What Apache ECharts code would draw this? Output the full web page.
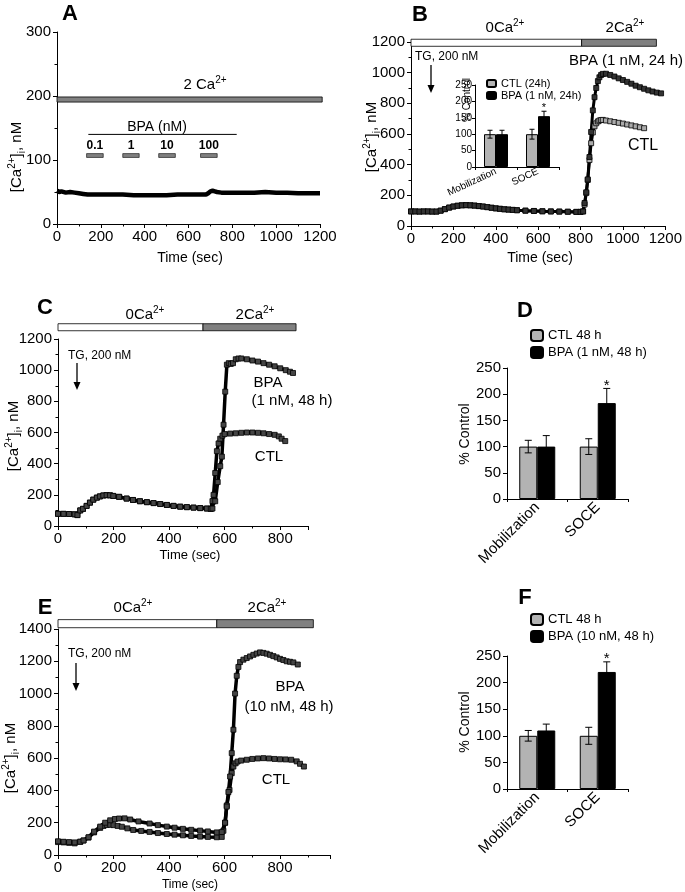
<!DOCTYPE html>
<html><head><meta charset="utf-8">
<script src="https://cdn.jsdelivr.net/npm/echarts@6/dist/echarts.min.js"></script>
<style>html,body{margin:0;padding:0;background:#fff}#c{width:685px;height:892px}</style>
</head><body><div id="c"></div>
<script>
const FF = '"Liberation Sans", Arial, Helvetica, sans-serif';

// ---------- Panel A ----------
const A_trace = [[0,52],[10,50],[20,51],[40,49],[60,50],[80,49],[100,48],[120,47],[140,46],[160,46],[200,46],[250,46],[300,46],[350,45],[400,45],[450,45],[500,45],[550,46],[600,46],[650,46],[680,46],[690,48],[700,51],[710,52],[720,51],[730,50],[750,49],[800,49],[850,49],[900,49],[950,50],[1000,49],[1050,49],[1100,48],[1150,48],[1200,48]];
const A_cond = [[0,1210,190.5,198.5,1]];
const A_bpaSpan = [[143,820,140]];
const A_doseLabels = ['0.1','1','10','100'];
const A_doseStart = [135,300,464,655];
const A_doseEnd = [211,375,540,731];
const A_doseLevel = [104,110];

// ---------- Panel B ----------
const B_cond = [[0,805,1172,1218,0],[805,1158,1172,1218,1]];
const B_ctl = [[0,95],[20,95],[40,94],[60,95],[80,95],[100,94],[120,94],[140,100],[160,110],[180,120],[200,127],[220,132],[240,135],[260,136],[280,135],[300,133],[320,130],[340,127],[360,123],[380,119],[400,115],[420,112],[440,109],[460,107],[480,105],[500,103],[540,100],[580,98],[620,96],[660,95],[700,94],[740,93],[780,92],[800,92],[812,95],[819,140],[827,215],[834,300],[842,430],[850,540],[858,610],[866,650],[874,670],[882,682],[889,688],[897,691],[905,692],[920,688],[940,683],[960,678],[980,673],[1000,668],[1020,662],[1040,656],[1060,650],[1080,644],[1100,638]];
const B_bpa = [[0,95],[20,95],[40,94],[60,95],[80,95],[100,94],[120,94],[140,100],[160,110],[180,120],[200,127],[220,132],[240,135],[260,136],[280,135],[300,133],[320,130],[340,127],[360,123],[380,119],[400,115],[420,112],[440,109],[460,107],[480,105],[500,103],[540,100],[580,98],[620,96],[660,95],[700,94],[740,93],[780,92],[800,92],[812,95],[819,150],[827,220],[834,304],[842,450],[850,613],[858,754],[866,840],[874,900],[882,945],[889,970],[897,985],[905,992],[920,993],[940,985],[960,975],[980,963],[1000,952],[1020,940],[1040,928],[1060,915],[1080,905],[1100,895],[1120,885],[1140,877],[1160,870],[1180,865]];
const B_cats = ['Mobilization','SOCE'];
const B_inCtl = [100,100], B_inCtlErr = [12,15];
const B_inBpa = [100,155], B_inBpaErr = [12,15];
const B_inSig = [0,1];

// ---------- Panel C ----------
const C_cond = [[0,522,1253,1298,0],[522,857,1253,1298,1]];
const C_base = [[0,78],[20,78],[40,77],[60,75],[70,70],[80,100],[90,110],[103,129],[115,150],[127,169],[140,182],[151,190],[163,196],[175,198],[187,197],[199,193],[220,187],[247,176],[270,167],[295,159],[320,153],[344,147],[368,141],[392,135],[416,129],[440,124],[464,121],[488,118],[512,115],[536,112],[550,110]];
const C_ctlRise = [[556,160],[560,200],[566,340],[572,480],[578,530],[584,560],[592,580],[600,590],[620,593],[640,595],[660,598],[680,600],[700,600],[720,598],[740,595],[760,590],[780,585],[795,575],[805,560],[818,545]];
const C_bpaRise = [[556,112],[566,159],[575,282],[584,384],[590,445],[596,650],[602,862],[608,1035],[615,1045],[622,1040],[630,1045],[640,1070],[650,1075],[660,1075],[680,1070],[700,1062],[720,1055],[740,1045],[760,1035],[780,1025],[800,1012],[820,1000],[835,990],[846,982]];

// ---------- Panel D ----------
const D_cats = ['Mobilization','SOCE'];
const D_ctl = [100,100], D_ctlErr = [12,15];
const D_bpa = [100,183], D_bpaErr = [21,28];
const D_sig = [0,1];

// ---------- Panel E ----------
const E_cond = [[0,572,1408,1458,0],[572,920,1408,1458,1]];
const E_bpa = [[0,85],[20,82],[40,80],[60,78],[80,82],[92,90],[110,110],[130,145],[152,176],[170,200],[188,215],[205,223],[220,226],[240,227],[260,220],[290,208],[330,195],[360,185],[392,176],[420,169],[450,162],[480,156],[512,151],[540,146],[572,140],[590,142],[602,200],[608,300],[614,390],[620,486],[626,631],[632,776],[638,1000],[644,1110],[650,1165],[656,1195],[668,1210],[680,1220],[692,1230],[704,1240],[716,1248],[728,1255],[740,1252],[752,1247],[764,1240],[776,1232],[788,1224],[800,1215],[812,1208],[824,1200],[836,1197],[848,1193],[864,1180]];
const E_ctl = [[0,80],[20,78],[40,75],[60,72],[80,82],[92,90],[110,108],[130,140],[152,168],[164,180],[176,186],[188,187],[200,185],[215,180],[230,175],[250,165],[271,155],[300,149],[330,143],[360,136],[392,130],[420,126],[450,122],[480,118],[512,114],[540,112],[572,110],[590,112],[596,150],[602,200],[608,307],[618,403],[626,507],[632,548],[640,568],[647,579],[660,585],[680,590],[700,595],[720,598],[740,600],[760,598],[780,595],[800,593],[820,592],[840,590],[860,580],[872,565],[886,548]];

// ---------- Panel F ----------
const F_cats = ['Mobilization','SOCE'];
const F_ctl = [100,100], F_ctlErr = [10,16];
const F_bpa = [110,220], F_bpaErr = [12,19];
const F_sig = [0,1];

// ---------- helpers ----------
const COND_FILL = ['#ffffff', '#808080'];
function rich(size){
  const s = Math.round(size*0.66);
  return {sup:{fontSize:s, lineHeight:s, verticalAlign:'top', fontFamily:FF, fill:'#000'},
          sub:{fontSize:s, lineHeight:s, verticalAlign:'bottom', fontFamily:FF, fill:'#000'}};
}
function txt(x, y, text, size, o){
  o = o || {};
  return {type:'text', x:x, y:y, rotation:o.rot||0, z:20, silent:true,
    style:{text:text, fontSize:size, fontFamily:FF, fontWeight:o.bold?'bold':'normal', fill:'#000',
      align:o.align||'center', verticalAlign:'middle', lineHeight:Math.round(size*1.35), rich:rich(size)}};
}
function arrow(x, y1, y2){
  return {type:'group', z:20, silent:true, children:[
    {type:'line', shape:{x1:x,y1:y1,x2:x,y2:y2-6}, style:{stroke:'#000', lineWidth:1.3}},
    {type:'polygon', shape:{points:[[x-3.5,y2-8],[x+3.5,y2-8],[x,y2]]}, style:{fill:'#000'}}]};
}
const plainFmt = function(v){ return String(v); };
const xFmt = function(v){ return (v % 200 === 0 && v <= 800) ? String(v) : ''; };
function valAxis(g, min, max, interval, o){
  o = o || {};
  return {type:'value', gridIndex:g, min:min, max:max, interval:interval,
    axisLine:{show:true, onZero:false, lineStyle:{color:'#000', width:1}},
    axisTick:{show:true, length:o.tick||4, lineStyle:{color:'#000', width:1}},
    minorTick:{show:o.minor!==false, splitNumber:2, length:o.mtick||2.5, lineStyle:{color:'#000', width:1}},
    splitLine:{show:false}, minorSplitLine:{show:false},
    axisLabel:{color:'#000', fontSize:o.fs||15, fontFamily:FF, margin:o.margin||6, formatter:o.fmt||plainFmt}};
}
function catAxis(g, cats, o){
  return {type:'category', gridIndex:g, data:cats,
    axisLine:{show:true, lineStyle:{color:'#000', width:1}},
    axisTick:{show:true, length:3, lineStyle:{color:'#000'}},
    splitLine:{show:false},
    axisLabel:{color:'#000', fontSize:o.fs, fontFamily:FF, rotate:o.rot, margin:o.margin, interval:0}};
}
function condSeries(idx, segs){
  return {type:'custom', xAxisIndex:idx, yAxisIndex:idx, clip:false, silent:true, z:3, data:segs,
    renderItem:function(p, api){
      const a = api.coord([api.value(0), api.value(3)]);
      const b = api.coord([api.value(1), api.value(2)]);
      return {type:'rect', shape:{x:a[0], y:a[1], width:b[0]-a[0], height:b[1]-a[1]},
        style:{fill:COND_FILL[api.value(4)], stroke:'#000', lineWidth:0.8}};
    }};
}
function trace(idx, data, o){
  o = o || {};
  return {type:'line', xAxisIndex:idx, yAxisIndex:idx, data:data, z:5, silent:true,
    symbol:o.symbol||'rect', symbolSize:o.size||5, showSymbol:o.symbol!=='none', showAllSymbol:true,
    lineStyle:{color:'#000', width:o.lw||1.5},
    itemStyle:{color:o.fill||'#444', borderColor:'#000', borderWidth:0.8}};
}
function errSeries(idx, vals, errs, sig, offset, cap, afs){
  const data = vals.map(function(v,i){ return [i, v, errs[i], sig ? sig[i] : 0]; });
  return {type:'custom', xAxisIndex:idx, yAxisIndex:idx, z:6, silent:true, data:data,
    renderItem:function(p, api){
      const i = api.value(0), v = api.value(1), e = api.value(2), s = api.value(3);
      const t = api.coord([i, v+e]), b = api.coord([i, v-e]);
      const x = t[0] + offset;
      const ch = [
        {type:'line', shape:{x1:x,y1:t[1],x2:x,y2:b[1]}, style:{stroke:'#000', lineWidth:1}},
        {type:'line', shape:{x1:x-cap,y1:t[1],x2:x+cap,y2:t[1]}, style:{stroke:'#000', lineWidth:1}},
        {type:'line', shape:{x1:x-cap,y1:b[1],x2:x+cap,y2:b[1]}, style:{stroke:'#000', lineWidth:1}}];
      if (s) ch.push({type:'text', x:x, y:t[1]-3, style:{text:'*', fontSize:afs, fontFamily:FF, fill:'#000', align:'center', verticalAlign:'middle'}});
      return {type:'group', children:ch};
    }};
}
function barSeries(idx, name, data, color, w){
  return {type:'bar', name:name, xAxisIndex:idx, yAxisIndex:idx, data:data, barWidth:w, barGap:'0%', z:4,
    itemStyle:{color:color, borderColor:'#000', borderWidth:1}};
}

// A custom annotations (BPA line and dose bars) in data coordinates
const A_bpaLineSeries = {type:'custom', xAxisIndex:0, yAxisIndex:0, clip:false, silent:true, z:3, data:A_bpaSpan,
  renderItem:function(p, api){
    const a = api.coord([api.value(0), api.value(2)]), b = api.coord([api.value(1), api.value(2)]);
    return {type:'line', shape:{x1:a[0], y1:a[1], x2:b[0], y2:b[1]}, style:{stroke:'#000', lineWidth:1}};
  }};
const A_doseSeries = {type:'custom', xAxisIndex:0, yAxisIndex:0, clip:false, silent:true, z:3,
  data:A_doseStart.map(function(s,i){ return [s, A_doseEnd[i], i]; }),
  renderItem:function(p, api){
    const i = api.value(2);
    const a = api.coord([api.value(0), A_doseLevel[1]]), b = api.coord([api.value(1), A_doseLevel[0]]);
    return {type:'group', children:[
      {type:'rect', shape:{x:a[0], y:a[1], width:b[0]-a[0], height:b[1]-a[1]}, style:{fill:'#808080', stroke:'#000', lineWidth:0.6}},
      {type:'text', x:(a[0]+b[0])/2, y:a[1]-8, style:{text:A_doseLabels[i], fontSize:12, fontWeight:'bold', fontFamily:FF, fill:'#000', align:'center', verticalAlign:'middle'}}]};
  }};

const option = {
  animation:false,
  backgroundColor:'#fff',
  textStyle:{fontFamily:FF},
  grid:[
    {left:57, top:32, width:263, height:192},     // A
    {left:411, top:42, width:255, height:184},    // B
    {left:475, top:85, width:84, height:82},      // B inset
    {left:58, top:339, width:250, height:187},    // C
    {left:507, top:368, width:121, height:131},   // D
    {left:58, top:629, width:272, height:226},    // E
    {left:507, top:656, width:121, height:133}    // F
  ],
  xAxis:[
    valAxis(0, 0, 1200, 200, {margin:5}),
    valAxis(1, 0, 1200, 200, {margin:5}),
    catAxis(2, B_cats, {fs:10, rot:25, margin:4}),
    valAxis(3, 0, 900, 200, {margin:5, fmt:xFmt}),
    catAxis(4, D_cats, {fs:15, rot:45, margin:6}),
    valAxis(5, 0, 980, 200, {margin:5, fmt:xFmt}),
    catAxis(6, F_cats, {fs:15, rot:45, margin:6})
  ],
  yAxis:[
    valAxis(0, 0, 300, 100),
    valAxis(1, 0, 1200, 200),
    valAxis(2, 0, 250, 50, {fs:10, margin:3, minor:false, tick:3}),
    valAxis(3, 0, 1200, 200),
    valAxis(4, 0, 250, 50, {minor:false}),
    valAxis(5, 0, 1400, 200),
    valAxis(6, 0, 250, 50, {minor:false})
  ],
  legend:[
    {data:['CTL (24h)','BPA (1 nM, 24h)'], left:486, top:78, orient:'vertical', padding:0, itemWidth:9, itemHeight:7, itemGap:1, selectedMode:false,
      textStyle:{fontSize:11, lineHeight:9, color:'#000', fontFamily:FF}},
    {data:['CTL 48 h','BPA (1 nM, 48 h)'], left:530, top:329, orient:'vertical', padding:0, itemWidth:12, itemHeight:11, itemGap:4, selectedMode:false,
      textStyle:{fontSize:13, lineHeight:12, color:'#000', fontFamily:FF}},
    {data:['CTL 48 h','BPA (10 nM, 48 h)'], left:530, top:613, orient:'vertical', padding:0, itemWidth:12, itemHeight:11, itemGap:4, selectedMode:false,
      textStyle:{fontSize:13, lineHeight:12, color:'#000', fontFamily:FF}}
  ],
  series:[
    // A
    condSeries(0, A_cond), A_bpaLineSeries, A_doseSeries,
    trace(0, A_trace, {symbol:'none', lw:4.5}),
    // B
    condSeries(1, B_cond),
    trace(1, B_ctl, {fill:'#aaa', lw:3}),
    trace(1, B_bpa, {fill:'#333', lw:3}),
    barSeries(2, 'CTL (24h)', B_inCtl, '#b3b3b3', 12),
    barSeries(2, 'BPA (1 nM, 24h)', B_inBpa, '#000', 12),
    errSeries(2, B_inCtl, B_inCtlErr, null, -6, 2.5, 11),
    errSeries(2, B_inBpa, B_inBpaErr, B_inSig, 6, 2.5, 11),
    // C
    condSeries(3, C_cond),
    trace(3, C_base.concat(C_ctlRise), {fill:'#444', size:5, lw:3.5}),
    trace(3, C_base.concat(C_bpaRise), {fill:'#444', size:5, lw:3.5}),
    // D
    barSeries(4, 'CTL 48 h', D_ctl, '#b3b3b3', 18),
    barSeries(4, 'BPA (1 nM, 48 h)', D_bpa, '#000', 18),
    errSeries(4, D_ctl, D_ctlErr, null, -9, 3.5, 15),
    errSeries(4, D_bpa, D_bpaErr, D_sig, 9, 3.5, 15),
    // E
    condSeries(5, E_cond),
    trace(5, E_ctl, {fill:'#444', size:5, lw:3.5}),
    trace(5, E_bpa, {fill:'#444', size:5, lw:3.5}),
    // F
    barSeries(6, 'CTL 48 h', F_ctl, '#b3b3b3', 18),
    barSeries(6, 'BPA (10 nM, 48 h)', F_bpa, '#000', 18),
    errSeries(6, F_ctl, F_ctlErr, null, -9, 3.5, 15),
    errSeries(6, F_bpa, F_bpaErr, F_sig, 9, 3.5, 15)
  ],
  graphic:[
    // panel letters
    txt(70, 14, 'A', 22, {bold:true}), txt(420, 15, 'B', 22, {bold:true}),
    txt(45, 308, 'C', 22, {bold:true}), txt(525, 311, 'D', 22, {bold:true}),
    txt(45, 608, 'E', 22, {bold:true}), txt(525, 598, 'F', 22, {bold:true}),
    // axis names
    txt(17, 157, '[Ca{sup|2+}]{sub|i}, nM', 15, {rot:Math.PI/2}),
    txt(372, 137, '[Ca{sup|2+}]{sub|i}, nM', 15, {rot:Math.PI/2}),
    txt(14, 436, '[Ca{sup|2+}]{sub|i}, nM', 15, {rot:Math.PI/2}),
    txt(11, 758, '[Ca{sup|2+}]{sub|i}, nM', 15, {rot:Math.PI/2}),
    txt(467, 100, '% Control', 10, {rot:Math.PI/2}),
    txt(465, 434, '% Control', 14, {rot:Math.PI/2}),
    txt(465, 722, '% Control', 14, {rot:Math.PI/2}),
    txt(190, 258, 'Time (sec)', 14), txt(540, 258, 'Time (sec)', 14),
    txt(190, 555, 'Time (sec)', 13), txt(190, 885, 'Time (sec)', 12),
    // panel A annotations
    txt(205, 85, '2 Ca{sup|2+}', 15), txt(157, 127, 'BPA (nM)', 14),
    // panel B annotations
    txt(505, 28, '0Ca{sup|2+}', 15), txt(625, 28, '2Ca{sup|2+}', 15),
    txt(415, 57, 'TG, 200 nM', 12, {align:'left'}), arrow(431, 65, 93),
    txt(626, 61, 'BPA (1 nM, 24 h)', 15), txt(643, 146, 'CTL', 16),
    // panel C annotations
    txt(145, 315, '0Ca{sup|2+}', 15), txt(255, 315, '2Ca{sup|2+}', 15),
    txt(68, 356, 'TG, 200 nM', 12, {align:'left'}), arrow(77, 363, 390),
    txt(268, 383, 'BPA', 15), txt(292, 401, '(1 nM, 48 h)', 15), txt(269, 457, 'CTL', 15),
    // panel E annotations
    txt(133, 608, '0Ca{sup|2+}', 15), txt(267, 608, '2Ca{sup|2+}', 15),
    txt(68, 654, 'TG, 200 nM', 12, {align:'left'}), arrow(76, 663, 691),
    txt(290, 687, 'BPA', 15), txt(289, 707, '(10 nM, 48 h)', 15), txt(276, 780, 'CTL', 15)
  ]
};
const chart = echarts.init(document.getElementById('c'), null, {renderer:'canvas'});
chart.setOption(option);
</script></body></html>
